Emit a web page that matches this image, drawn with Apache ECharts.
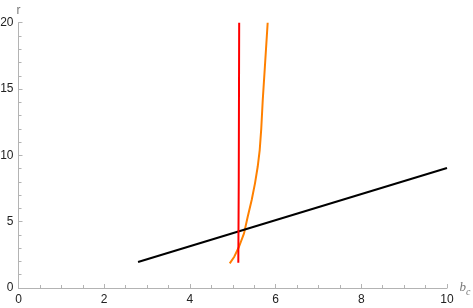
<!DOCTYPE html>
<html><head><meta charset="utf-8">
<script src="https://cdn.jsdelivr.net/npm/echarts@6/dist/echarts.min.js"></script>
<style>html,body{margin:0;padding:0;background:#fff}#c{width:473px;height:308px}</style>
</head><body><div id="c"></div>
<script>
var xTicks = [0, 2, 4, 6, 8, 10];
var yTicks = [0, 5, 10, 15, 20];
var blackLine = [[2.79, 1.96], [10, 9.05]];
var redLine = [[5.13, 1.9], [5.14, 8], [5.145, 14], [5.15, 20]];
var orangeCurve = [[4.93, 1.86], [5.036, 2.36], [5.146, 3.11], [5.263, 4.12], [5.349, 5.37], [5.442, 6.63], [5.519, 7.89], [5.582, 9.14], [5.629, 10.40], [5.665, 12.0], [5.70, 14.17], [5.75, 16.68], [5.815, 20]];

var axisGray = '#b3b3b3';
var chart = echarts.init(document.getElementById('c'));
chart.setOption({
  animation: false,
  grid: {left: 18.5, right: 26, top: 22.7, bottom: 20, outerBoundsMode: 'none', containLabel: false},
  xAxis: {
    type: 'value', min: xTicks[0], max: xTicks[xTicks.length-1], interval: 2,
    axisLine: {lineStyle: {color: axisGray, width: 1}},
    axisTick: {inside: true, length: 4, lineStyle: {color: axisGray}},
    minorTick: {show: true, splitNumber: 4, length: 3, lineStyle: {color: axisGray}},
    splitLine: {show: false},
    axisLabel: {color: '#222', fontSize: 12, margin: 6, fontFamily: 'Liberation Sans, Arial, sans-serif'},
    name: '{b|b}{c|c}',
    nameLocation: 'end', nameGap: 6,
    nameTextStyle: {
      rich: {
        b: {fontStyle: 'italic', color: '#777', fontSize: 13, fontFamily: 'Liberation Serif, serif'},
        c: {fontStyle: 'italic', color: '#777', fontSize: 10, fontFamily: 'Liberation Serif, serif', padding: [8, 0, 0, 0]}
      }
    }
  },
  yAxis: {
    type: 'value', min: yTicks[0], max: yTicks[yTicks.length-1], interval: 5,
    axisLine: {show: true, lineStyle: {color: axisGray, width: 1}},
    axisTick: {show: true, inside: true, length: 4, lineStyle: {color: axisGray}},
    minorTick: {show: true, splitNumber: 5, length: 3, lineStyle: {color: axisGray}},
    splitLine: {show: false},
    axisLabel: {color: '#222', fontSize: 12, margin: 5, fontFamily: 'Liberation Sans, Arial, sans-serif'},
    name: 'r', nameLocation: 'end', nameGap: 5,
    nameTextStyle: {color: '#777', fontSize: 12, align: 'left', padding: [0, 0, 0, -2], fontFamily: 'Liberation Sans, Arial, sans-serif'}
  },
  series: [
    {type: 'line', data: blackLine, showSymbol: false, lineStyle: {color: '#000', width: 2}, z: 3},
    {type: 'line', data: orangeCurve, smooth: false, showSymbol: false, lineStyle: {color: '#ff8000', width: 2}, z: 2},
    {type: 'line', data: redLine, showSymbol: false, lineStyle: {color: '#ff0000', width: 2}, z: 4}
  ]
});
</script></body></html>
